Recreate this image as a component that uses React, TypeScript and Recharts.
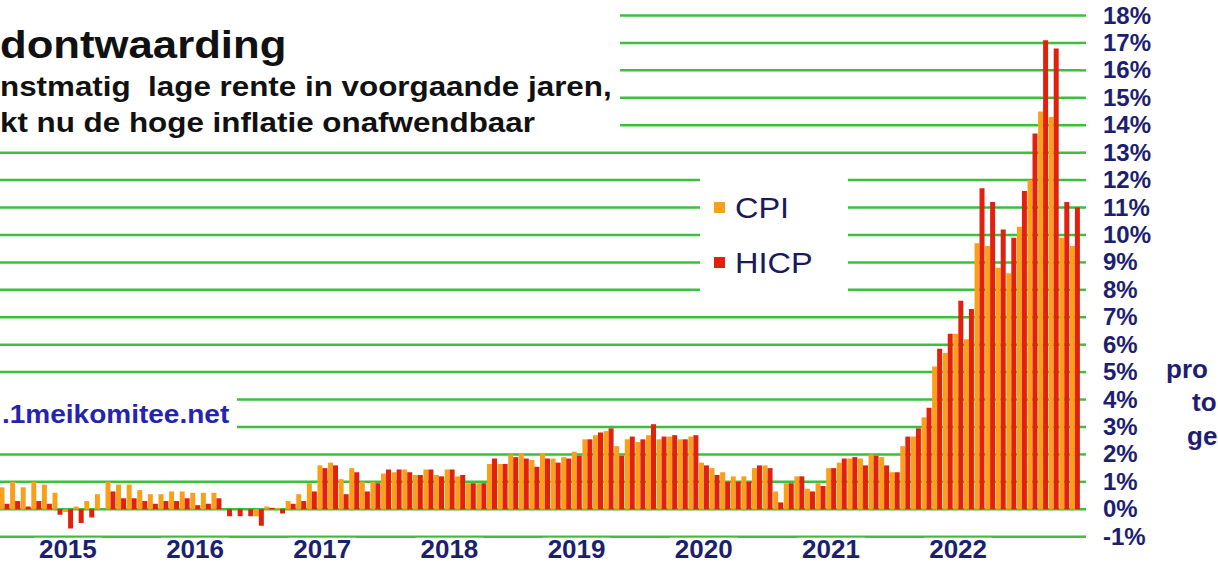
import React from "react";
import { BarChart, Bar, XAxis, YAxis, CartesianGrid } from "recharts";

// monthly categories, Jul 2014 .. Dec 2022
const months: string[] = [];
for (let y = 2014; y <= 2022; y++) {
  for (let m = 1; m <= 12; m++) {
    if (y === 2014 && m < 7) continue;
    months.push(`${y}-${String(m).padStart(2, "0")}`);
  }
}

// CPI, year-on-year %
const cpi = [
  0.8, 1.0, 0.8, 1.0, 0.9, 0.6,
  -0.1, 0.1, 0.3, 0.55, 1.0, 0.9, 0.9, 0.7, 0.55, 0.55, 0.65, 0.65,
  0.6, 0.6, 0.6, 0.0, 0.0, 0.0, -0.25, 0.1, 0.05, 0.3, 0.55, 0.95,
  1.6, 1.7, 1.1, 1.5, 1.0, 1.0, 1.3, 1.35, 1.45, 1.25, 1.45, 1.25,
  1.45, 1.2, 0.95, 0.95, 1.65, 1.65, 2.0, 2.05, 1.8, 2.05, 1.85, 1.9,
  2.1, 2.55, 2.7, 2.85, 2.3, 2.55, 2.45, 2.7, 2.55, 2.65, 2.55, 2.65,
  1.7, 1.5, 1.35, 1.2, 1.2, 1.5, 1.6, 0.65, 0.95, 1.2, 0.75, 0.95,
  1.5, 1.7, 1.85, 1.85, 2.0, 1.9, 1.35, 2.3, 2.65, 3.35, 5.2, 5.7,
  6.4, 6.2, 9.7, 9.6, 8.8, 8.6, 10.3, 12.0, 14.5, 14.3, 9.9, 9.6,
];

// HICP, year-on-year %
const hicp = [
  0.2, 0.3, 0.1, 0.3, 0.2, -0.2,
  -0.7, -0.5, -0.3, 0.0, 0.65, 0.4, 0.4, 0.3, 0.2, 0.3, 0.3, 0.4,
  0.15, 0.2, 0.4, -0.25, -0.25, -0.25, -0.6, 0.05, -0.15, 0.2, 0.3, 0.65,
  1.5, 1.6, 0.55, 1.35, 0.65, 0.95, 1.45, 1.45, 1.35, 1.25, 1.45, 1.2,
  1.45, 1.25, 0.95, 0.95, 1.85, 1.65, 1.9, 1.85, 1.55, 1.85, 1.7, 1.85,
  1.95, 2.55, 2.8, 2.95, 1.95, 2.65, 2.55, 3.1, 2.65, 2.7, 2.55, 2.7,
  1.6, 1.25, 1.0, 1.0, 1.0, 1.6, 1.5, 0.25, 0.95, 1.2, 0.65, 0.85,
  1.5, 1.85, 1.9, 1.6, 1.95, 1.6, 1.35, 2.65, 2.95, 3.7, 5.85, 6.4,
  7.6, 7.3, 11.7, 11.2, 10.2, 9.9, 11.6, 13.7, 17.1, 16.8, 11.2, 11.0,
];

const yTicks = [-1, 0, 1, 2, 3, 4, 5, 6, 7, 8, 9, 10, 11, 12, 13, 14, 15, 16, 17, 18];

const data = months.map((m, i) => ({ month: m, cpi: cpi[i], hicp: hicp[i] }));

const FONT = '"Liberation Sans", Arial, sans-serif';
const NAVY = "#1e1e70";
const GREEN = "#3dbf3d";
const ORANGE = "#F9A01B";
const RED = "#E2200E";

function YearTick(props: any) {
  const { x, y, payload } = props;
  const [yr, mo] = String(payload.value).split("-");
  if (mo !== "01") return <g />;
  return (
    <g>
      <rect x={x - 34} y={y + 1} width={68} height={26} fill="#fff" />
      <text x={x} y={y + 21} textAnchor="middle" fontFamily={FONT} fontWeight="bold" fontSize={26} fill={NAVY}>
        {yr}
      </text>
    </g>
  );
}

function PctTick(props: any) {
  const { x, y, payload } = props;
  return (
    <text x={x} y={y} dy={8} textAnchor="start" fontFamily={FONT} fontWeight="bold" fontSize={24} fill={NAVY}>
      {payload.value}%
    </text>
  );
}

const stretch: React.CSSProperties = {
  position: "absolute",
  whiteSpace: "nowrap",
  transform: "scaleX(1.12)",
  transformOrigin: "left top",
};

const caption: React.CSSProperties = {
  position: "absolute",
  fontSize: 26,
  lineHeight: "26px",
  fontWeight: "bold",
  color: NAVY,
  whiteSpace: "nowrap",
};

export default function App() {
  return (
    <div style={{ position: "absolute", left: 0, top: 0, width: 1218, height: 570, overflow: "hidden", background: "#fff", fontFamily: FONT }}>
      <div style={{ position: "absolute", left: -1, top: 0 }}>
        <BarChart
          width={1219}
          height={570}
          data={data}
          margin={{ top: 15.5, right: 0, bottom: 0, left: 0 }}
          barCategoryGap={0.5}
          barGap={0}
        >
          <CartesianGrid vertical={false} stroke={GREEN} strokeWidth={2.5} />
          <XAxis dataKey="month" interval={0} tickLine={false} axisLine={false} height={33.3} tickSize={0} tickMargin={0} tick={<YearTick />} />
          <YAxis
            orientation="right"
            domain={[-1, 18]}
            ticks={yTicks}
            width={138}
            axisLine={false}
            tickLine={{ stroke: GREEN, strokeWidth: 2.5 }}
            tickSize={6}
            tickMargin={17}
            tick={<PctTick />}
            allowDataOverflow
          />
          <Bar dataKey="cpi" fill={ORANGE} isAnimationActive={false} />
          <Bar dataKey="hicp" fill={RED} isAnimationActive={false} />
        </BarChart>
      </div>

      {/* title block */}
      <div style={{ position: "absolute", left: 0, top: 0, width: 620, height: 140, background: "#fff" }}>
        <div style={{ ...stretch, left: 0, top: 25, fontSize: 39, lineHeight: "39px", fontWeight: "bold", color: "#111" }}>dontwaarding</div>
        <div style={{ ...stretch, left: 0, top: 73, fontSize: 28, lineHeight: "28px", fontWeight: "bold", color: "#111" }}>
          nstmatig&nbsp; lage rente in voorgaande jaren,
        </div>
        <div style={{ ...stretch, left: 0, top: 109, fontSize: 28, lineHeight: "28px", fontWeight: "bold", color: "#111" }}>
          kt nu de hoge inflatie onafwendbaar
        </div>
      </div>

      {/* legend */}
      <div style={{ position: "absolute", left: 700, top: 168, width: 148, height: 132, background: "#fff" }}>
        <div style={{ position: "absolute", left: 14, top: 34, width: 11, height: 11, background: ORANGE }} />
        <div style={{ ...stretch, left: 35, top: 25.5, fontSize: 29, lineHeight: "29px", color: "#1a1a5a" }}>CPI</div>
        <div style={{ position: "absolute", left: 14, top: 89, width: 11, height: 11, background: RED }} />
        <div style={{ ...stretch, left: 35, top: 80.5, fontSize: 29, lineHeight: "29px", color: "#1a1a5a" }}>HICP</div>
      </div>

      {/* site */}
      <div style={{ position: "absolute", left: 0, top: 393, width: 237, height: 42, background: "#fff" }}>
        <div style={{ ...stretch, left: 2, top: 9, fontSize: 25, lineHeight: "25px", fontWeight: "bold", color: "#2424b0" }}>.1meikomitee.net</div>
      </div>

      {/* axis caption on the right (only the visible part of the words) */}
      <div style={{ ...caption, left: 1166, top: 356 }}>pro</div>
      <div style={{ ...caption, left: 1192, top: 389 }}>to</div>
      <div style={{ ...caption, left: 1187, top: 423 }}>ge</div>
    </div>
  );
}
